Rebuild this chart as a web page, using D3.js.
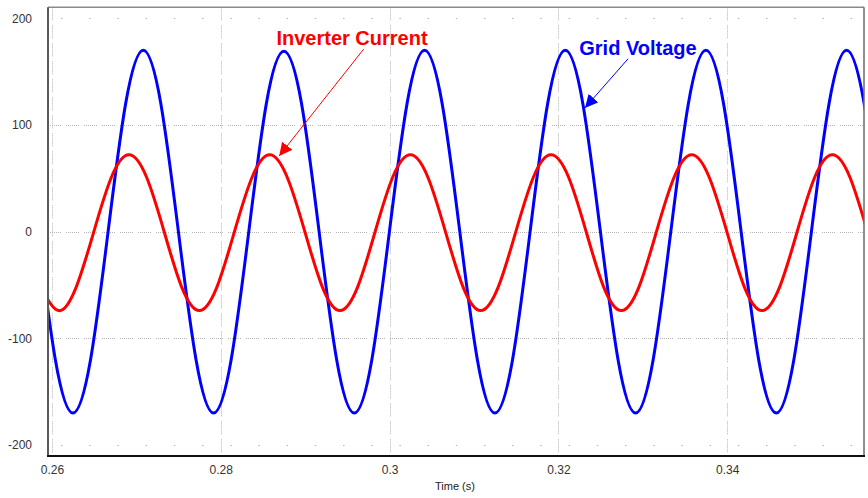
<!DOCTYPE html>
<html>
<head>
<meta charset="utf-8">
<script src="https://cdn.jsdelivr.net/npm/d3@7"></script>
<style>
  html, body { margin: 0; padding: 0; background: #ffffff; }
  svg { display: block; }
</style>
</head>
<body>
<svg id="chart" width="868" height="498"></svg>
<script>
// ---- Data ----
const voltTime = [0.25832, 0.26040, 0.26248, 0.26457, 0.26665, 0.26873, 0.27082, 0.27290, 0.27498, 0.27707,
  0.27915, 0.28123, 0.28332, 0.28540, 0.28748, 0.28957, 0.29165, 0.29373, 0.29582, 0.29790,
  0.29998, 0.30207, 0.30415, 0.30623, 0.30832, 0.31040, 0.31248, 0.31457, 0.31665, 0.31873,
  0.32082, 0.32290, 0.32498, 0.32707, 0.32915, 0.33123, 0.33332, 0.33540, 0.33748, 0.33957,
  0.34165, 0.34373, 0.34582, 0.34790, 0.34998, 0.35207, 0.35415, 0.35623, 0.35832];
const voltValue = [0, -120, -170, -120, 0, 120, 170, 120, 0, -120,
  -170, -120, 0, 120, 169, 120, 0, -120, -170, -120,
  0, 120, 170, 120, 0, -120, -170, -120, 0, 120,
  170, 120, 0, -120, -170, -120, 0, 120, 170, 120,
  0, -120, -170, -120, 0, 120, 170, 120, 0];

const currTime = [0.25871, 0.26079, 0.26287, 0.26496, 0.26704, 0.26912, 0.27121, 0.27329, 0.27537, 0.27746,
  0.27954, 0.28162, 0.28371, 0.28579, 0.28787, 0.28996, 0.29204, 0.29412, 0.29621, 0.29829,
  0.30037, 0.30246, 0.30454, 0.30662, 0.30871, 0.31079, 0.31287, 0.31496, 0.31704, 0.31912,
  0.32121, 0.32329, 0.32537, 0.32746, 0.32954, 0.33162, 0.33371, 0.33579, 0.33787, 0.33996,
  0.34204, 0.34412, 0.34621, 0.34829, 0.35037, 0.35246, 0.35454, 0.35662];
const currValue = [-52, -74, -52, 0, 51, 72, 51, 0, -52, -74,
  -52, 0, 51, 72, 51, 0, -52, -74, -52, 0,
  51, 72, 51, 0, -52, -74, -52, 0, 51, 72,
  51, 0, -52, -74, -52, 0, 51, 72, 51, 0,
  -52, -74, -52, 0, 51, 72, 51, 0];

const xTicks = [0.26, 0.28, 0.30, 0.32, 0.34];
const xTickLabels = ["0.26", "0.28", "0.3", "0.32", "0.34"];
const yTicks = [200, 100, 0, -100, -200];
const yTickLabels = ["200", "100", "0", "-100", "-200"];
const xTitle = "Time (s)";
const annotations = [
  { text: "Inverter Current", color: "#ff0000", tx: 352, ty: 45, fromT: 0.29692, fromV: 171, toT: 0.28692, toV: 71 },
  { text: "Grid Voltage", color: "#0000ff", tx: 638, ty: 55, fromT: 0.32825, fromV: 162, toT: 0.32315, toV: 116 }
];

// ---- Layout ----
const svg = d3.select("#chart");
const pLeft = 48, pRight = 864, pTop = 7.3, pBottom = 456;

const x = d3.scaleLinear().domain([0.25953, 0.35621]).range([pLeft, pRight]);
const y = d3.scaleLinear().domain([-210.3, 210.3]).range([pBottom, pTop]);

// grid
const grid = svg.append("g");
const gridColor = "#b4b4b4";
const dotted = "1 1 1 1 1 1 1 1 1 1 1 1 1 5";
[100, 0, -100].forEach(v => {
  grid.append("line")
    .attr("x1", pLeft).attr("x2", pRight)
    .attr("y1", Math.round(y(v)) + 0.5).attr("y2", Math.round(y(v)) + 0.5)
    .attr("stroke", gridColor).attr("stroke-width", 1)
    .attr("stroke-dasharray", dotted);
});
[200, -200].forEach(v => {
  grid.append("line")
    .attr("x1", pLeft).attr("x2", pRight)
    .attr("y1", Math.round(y(v)) + 0.5).attr("y2", Math.round(y(v)) + 0.5)
    .attr("stroke", gridColor).attr("stroke-width", 1)
    .attr("stroke-dasharray", "1.5 26.7")
    .attr("stroke-dashoffset", 15.2);
});
xTicks.forEach(t => {
  grid.append("line")
    .attr("x1", Math.round(x(t)) + 0.5).attr("x2", Math.round(x(t)) + 0.5)
    .attr("y1", pTop).attr("y2", pBottom)
    .attr("stroke", gridColor).attr("stroke-width", 1)
    .attr("stroke-dasharray", dotted);
});

// clip
const defs = svg.append("defs");
defs.append("clipPath").attr("id", "plotClip")
  .append("rect").attr("x", pLeft).attr("y", pTop).attr("width", pRight - pLeft).attr("height", pBottom - pTop);

const line = d3.line().curve(d3.curveNatural).x(d => x(d[0])).y(d => y(d[1]));
const curves = svg.append("g").attr("clip-path", "url(#plotClip)");
curves.append("path")
  .datum(voltTime.map((t, i) => [t, voltValue[i]]))
  .attr("d", line).attr("fill", "none").attr("stroke", "#0000ff").attr("stroke-width", 3);
curves.append("path")
  .datum(currTime.map((t, i) => [t, currValue[i]]))
  .attr("d", line).attr("fill", "none").attr("stroke", "#ff0000").attr("stroke-width", 3);

// frame
svg.append("line").attr("x1", pLeft).attr("x2", pRight).attr("y1", pTop).attr("y2", pTop)
  .attr("stroke", "#8a8a8a").attr("stroke-width", 1.5);
svg.append("line").attr("x1", pRight).attr("x2", pRight).attr("y1", pTop).attr("y2", pBottom)
  .attr("stroke", "#6a6a6a").attr("stroke-width", 1.5);
svg.append("line").attr("x1", pLeft).attr("x2", pLeft).attr("y1", pTop).attr("y2", pBottom + 1)
  .attr("stroke", "#5a5a5a").attr("stroke-width", 2);
svg.append("line").attr("x1", pLeft - 1).attr("x2", pRight + 1).attr("y1", pBottom).attr("y2", pBottom)
  .attr("stroke", "#111111").attr("stroke-width", 2);

// axes labels
const font = "'Liberation Sans', Arial, sans-serif";
const yAxis = d3.axisLeft(y).tickValues(yTicks).tickSize(0).tickPadding(0)
  .tickFormat((d, i) => yTickLabels[i]);
const yg = svg.append("g").attr("transform", `translate(${pLeft - 16},0)`).call(yAxis);
yg.select(".domain").remove();
yg.selectAll("text").attr("font-family", font).attr("font-size", 12).attr("fill", "#333");

const xAxis = d3.axisBottom(x).tickValues(xTicks).tickSize(0).tickPadding(0)
  .tickFormat((d, i) => xTickLabels[i]);
const xg = svg.append("g").attr("transform", `translate(0,${pBottom + 9})`).call(xAxis);
xg.select(".domain").remove();
xg.selectAll("text").attr("font-family", font).attr("font-size", 12).attr("fill", "#333");

svg.append("text").attr("x", 455).attr("y", 490).attr("text-anchor", "middle")
  .attr("font-family", font).attr("font-size", 11).attr("fill", "#222").text(xTitle);

// annotations
annotations.forEach((a, i) => {
  defs.append("marker").attr("id", "arr" + i)
    .attr("viewBox", "0 0 10 10").attr("refX", 10).attr("refY", 5)
    .attr("markerWidth", 13).attr("markerHeight", 13).attr("markerUnits", "userSpaceOnUse")
    .attr("orient", "auto")
    .append("path").attr("d", "M0,0 L10,5 L0,10 z").attr("fill", a.color);
  svg.append("line")
    .attr("x1", x(a.fromT)).attr("y1", y(a.fromV))
    .attr("x2", x(a.toT)).attr("y2", y(a.toV))
    .attr("stroke", a.color).attr("stroke-width", 1)
    .attr("marker-end", `url(#arr${i})`);
  svg.append("text").attr("x", a.tx).attr("y", a.ty).attr("text-anchor", "middle")
    .attr("font-family", font).attr("font-weight", "bold").attr("font-size", 20)
    .attr("fill", a.color).text(a.text);
});
</script>
</body>
</html>
